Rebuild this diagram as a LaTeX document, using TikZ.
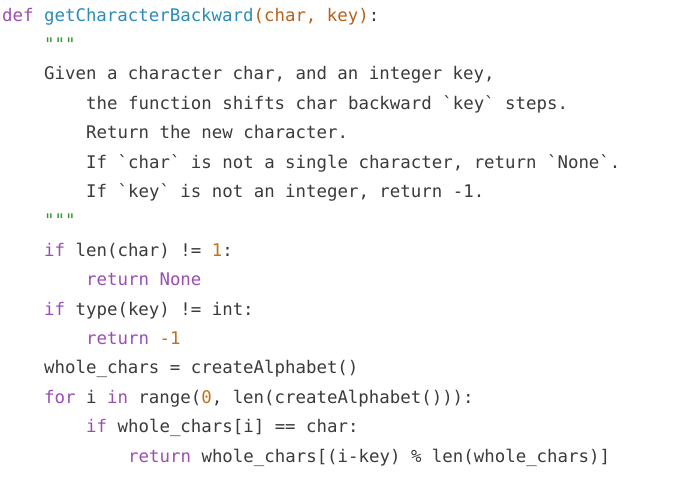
\documentclass[tikz,border=0pt]{standalone}
\usepackage{fontspec}
\newfontfamily\code{DejaVu Sans Mono}
\definecolor{kw}{HTML}{9A4EB3}
\definecolor{fn}{HTML}{2B8CB8}
\definecolor{par}{HTML}{B8621B}
\definecolor{grn}{HTML}{2E9B2E}
\definecolor{txt}{HTML}{3B3B3B}
\definecolor{num}{HTML}{C0721A}
\newcommand\ckw[1]{\textcolor{kw}{#1}}
\newcommand\cfn[1]{\textcolor{fn}{#1}}
\newcommand\cpar[1]{\textcolor{par}{#1}}
\newcommand\cnum[1]{\textcolor{num}{#1}}
\newcommand\cqq{\textcolor{grn}{\symbol{34}\symbol{34}\symbol{34}}}
\newcommand\cbt{\symbol{96}}
\begin{document}
\begin{tikzpicture}[x=1pt,y=-1pt,
  ln/.style={anchor=base west,inner sep=0pt,font=\code\fontsize{17.4}{20}\selectfont,text=txt}]
\useasboundingbox[fill=white] (0,0) rectangle (687,483);
\def\cw{10.5}
\def\codeline#1#2#3{\node[ln] (l#1) at ({2+#2*\cw},{21+#1*29.4}) {#3};}
\codeline{0}{0}{\ckw{def} \cfn{getCharacterBackward}\cpar{(char, key)}:}
\codeline{1}{4}{\cqq}
\codeline{2}{4}{Given a character char, and an integer key,}
\codeline{3}{8}{the function shifts char backward \cbt key\cbt{} steps.}
\codeline{4}{8}{Return the new character.}
\codeline{5}{8}{If \cbt char\cbt{} is not a single character, return \cbt None\cbt.}
\codeline{6}{8}{If \cbt key\cbt{} is not an integer, return -1.}
\codeline{7}{4}{\cqq}
\codeline{8}{4}{\ckw{if} len(char) != \cnum{1}:}
\codeline{9}{8}{\ckw{return None}}
\codeline{10}{4}{\ckw{if} type(key) != int:}
\codeline{11}{8}{\ckw{return} \cnum{-1}}
\codeline{12}{4}{whole\_chars = createAlphabet()}
\codeline{13}{4}{\ckw{for} i \ckw{in} range(\cnum{0}, len(createAlphabet())):}
\codeline{14}{8}{\ckw{if} whole\_chars[i] == char:}
\codeline{15}{12}{\ckw{return} whole\_chars[(i-key) \% len(whole\_chars)]}
\end{tikzpicture}
\end{document}
